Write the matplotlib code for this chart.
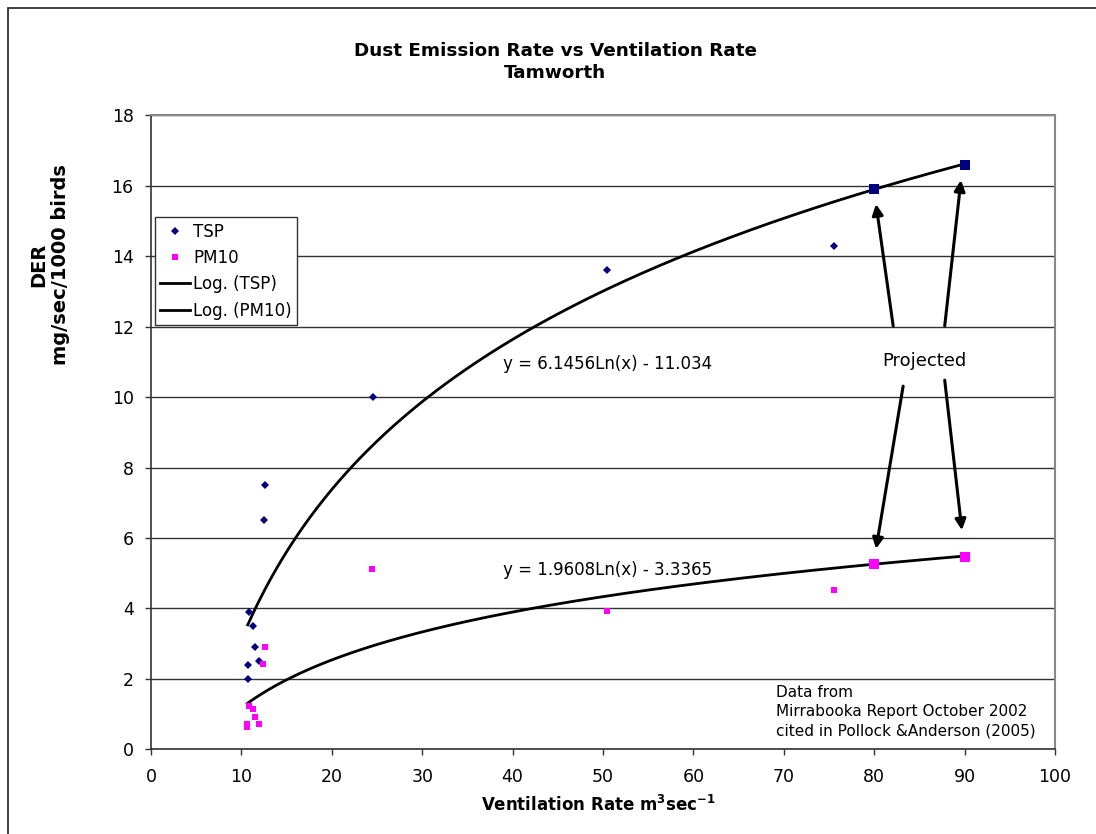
import numpy as np
import matplotlib
matplotlib.use("Agg")
import matplotlib.pyplot as plt
from matplotlib.lines import Line2D
from matplotlib.patches import Rectangle

plt.rcParams['font.family'] = 'DejaVu Sans'

W, H = 1096, 834

# ── data ─────────────────────────────────────────────────────────────────
TSP_X = [10.7, 10.7, 10.8, 11.3, 11.5, 11.9, 12.5, 12.6, 24.6, 50.4, 75.6]
TSP_Y = [2.0, 2.4, 3.9, 3.5, 2.9, 2.5, 6.5, 7.5, 10.0, 13.6, 14.3]
TSP_PROJ_X = [80, 90]
TSP_PROJ_Y = [15.9, 16.6]

PM10_X = [10.65, 10.65, 10.8, 11.25, 11.5, 11.9, 12.4, 12.6, 24.4, 50.4, 75.6]
PM10_Y = [0.62, 0.72, 1.23, 1.14, 0.93, 0.72, 2.43, 2.91, 5.12, 3.93, 4.52]
PM10_PROJ_X = [80, 90]
PM10_PROJ_Y = [5.25, 5.47]

# log trendlines as printed on the chart: y = a*ln(x) + b
TSP_FIT = (6.1456, -11.034)
PM10_FIT = (1.9608, -3.3365)

NAVY = "#000080"
MAGENTA = "#FF00FF"


def main():
    fig = plt.figure(figsize=(W / 100, H / 100), dpi=100)
    fig.patch.set_facecolor("white")
    ax = fig.add_axes([151 / W, 1 - 749.3 / H, 904 / W, 634 / H])

    # chart border (runs off the right and bottom edges)
    fig.patches.append(Rectangle((8 / W, -0.05), 1.2, 1.05 - 8 / H,
                                 transform=fig.transFigure, fill=False,
                                 edgecolor="#333333", lw=1.3))

    # trendlines
    for xs, fit in [(TSP_X, TSP_FIT), (PM10_X, PM10_FIT)]:
        xt = np.linspace(min(xs), 90, 300)
        ax.plot(xt, fit[0] * np.log(xt) + fit[1], color="black", lw=2.0, zorder=3)

    # points
    ax.plot(TSP_X, TSP_Y, ls="none", marker="D", ms=4.0, color=NAVY, mew=0, zorder=4)
    ax.plot(PM10_X, PM10_Y, ls="none", marker="s", ms=5.0, color=MAGENTA, mew=0, zorder=4)
    ax.plot(TSP_PROJ_X, TSP_PROJ_Y, ls="none", marker="s", ms=7.5, color=NAVY, mew=0, zorder=5)
    ax.plot(PM10_PROJ_X, PM10_PROJ_Y, ls="none", marker="s", ms=7.5, color=MAGENTA, mew=0, zorder=5)

    # ── axes ─────────────────────────────────────────────────────────────
    ax.set_xlim(0, 100)
    ax.set_ylim(0, 18)
    ax.set_xticks(np.arange(0, 101, 10))
    ax.set_yticks(np.arange(0, 19, 2))
    ax.tick_params(direction="out", length=4.5, width=1, color="#333333",
                   labelsize=12.5, labelcolor="black")
    ax.tick_params(axis="y", pad=8)
    ax.tick_params(axis="x", pad=9)
    ax.yaxis.grid(True, color="#333333", lw=1.0)
    ax.set_axisbelow(True)
    for s in ["left", "bottom"]:
        ax.spines[s].set_color("#333333")
        ax.spines[s].set_linewidth(1.2)
    for s in ["top", "right"]:
        ax.spines[s].set_color("#888888")
        ax.spines[s].set_linewidth(1.5)

    # equations and notes
    ax.text(38.9, 10.94, "y = 6.1456Ln(x) - 11.034", fontsize=12, va="center")
    ax.text(38.9, 5.09, "y = 1.9608Ln(x) - 3.3365", fontsize=12, va="center")
    ax.text(85.6, 11.02, "Projected", fontsize=13, ha="center", va="center")
    ax.text(69.1, 1.07, "Data from\nMirrabooka Report October 2002\ncited in Pollock &Anderson (2005)",
            fontsize=11.0, va="center", ha="left", linespacing=1.33)

    arrows = [((82.1, 12.02), (80.2, 15.48)),
              ((87.8, 12.02), (89.6, 16.16)),
              ((83.2, 10.31), (80.2, 5.69)),
              ((87.8, 10.48), (89.7, 6.22))]
    for tail, tip in arrows:
        ax.annotate("", xy=tip, xytext=tail,
                    arrowprops=dict(arrowstyle="-|>", color="black", lw=2.2,
                                    mutation_scale=16, shrinkA=0, shrinkB=0),
                    zorder=6)

    # ── legend ───────────────────────────────────────────────────────────
    handles = [
        Line2D([0], [0], ls="none", marker="D", ms=4.0, color=NAVY, mew=0, label="TSP"),
        Line2D([0], [0], ls="none", marker="s", ms=5.0, color=MAGENTA, mew=0, label="PM10"),
        Line2D([0], [0], color="black", lw=2.0, label="Log. (TSP)"),
        Line2D([0], [0], color="black", lw=2.0, label="Log. (PM10)"),
    ]
    leg = ax.legend(handles=handles, loc="upper left", bbox_to_anchor=(0.004, 0.84),
                    fontsize=12, frameon=True, fancybox=False, edgecolor="#333333",
                    framealpha=1, borderpad=0.35, labelspacing=0.5,
                    handlelength=1.8, handletextpad=0.15, borderaxespad=0)
    leg.get_frame().set_linewidth(1.0)

    # ── titles ───────────────────────────────────────────────────────────
    fig.text(555 / W, 1 - 56 / H, "Dust Emission Rate vs Ventilation Rate",
             ha="center", va="baseline", fontsize=13.2, fontweight="bold")
    fig.text(555 / W, 1 - 78 / H, "Tamworth",
             ha="center", va="baseline", fontsize=13.2, fontweight="bold")
    fig.text(50 / W, 1 - 265 / H, "DER\nmg/sec/1000 birds", rotation=90,
             ha="center", va="center", multialignment="center",
             fontsize=14, fontweight="bold")
    fig.text(598 / W, 1 - 811 / H,
             r"Ventilation Rate m$^{\mathbf{3}}$sec$^{\mathbf{-1}}$",
             ha="center", va="baseline", fontsize=12, fontweight="bold")

    fig.savefig("out.png", dpi=100)


if __name__ == "__main__":
    main()
